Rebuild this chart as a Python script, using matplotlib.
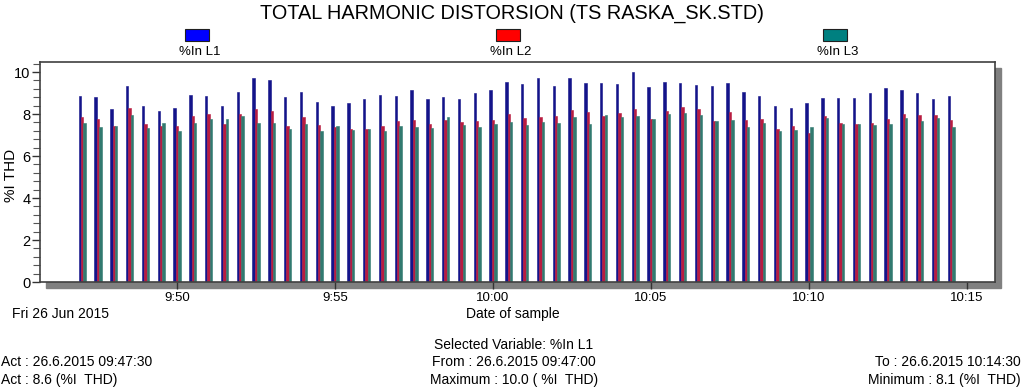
# Total harmonic distortion bar chart

import matplotlib
matplotlib.use('Agg')
import matplotlib.pyplot as plt
import matplotlib.dates as mdates
from matplotlib.patches import Rectangle
from matplotlib.ticker import MultipleLocator, FuncFormatter
import pandas as pd

plt.rcParams['font.family'] = ['Liberation Sans', 'DejaVu Sans']

# samples every 30 s
times = pd.date_range("2015-06-26 09:47:00", "2015-06-26 10:14:30", freq="30s")

thd_l1 = [8.87, 8.80, 8.26, 9.36, 8.40, 8.15, 8.31, 8.91, 8.85, 8.40,
          9.07, 9.70, 9.60, 8.82, 9.07, 8.59, 8.37, 8.51, 8.74, 8.91,
          8.85, 9.14, 8.72, 8.83, 8.72, 8.98, 9.14, 9.54, 9.42, 9.71,
          9.36, 9.70, 9.50, 9.50, 9.42, 9.98, 9.31, 9.54, 9.50, 9.39,
          9.36, 9.50, 9.06, 8.87, 8.40, 8.29, 8.51, 8.77, 8.77, 8.77,
          8.98, 9.25, 9.14, 8.98, 8.71, 8.85]
thd_l2 = [7.88, 7.76, 7.41, 8.31, 7.54, 7.43, 7.44, 7.89, 8.00, 7.51,
          8.00, 8.23, 8.15, 7.44, 7.86, 7.48, 7.40, 7.27, 7.30, 7.41,
          7.68, 7.70, 7.51, 7.72, 7.62, 7.65, 7.73, 7.99, 7.81, 7.84,
          7.91, 8.21, 8.10, 7.91, 8.07, 8.24, 7.76, 8.13, 8.35, 8.23,
          7.67, 8.10, 7.70, 7.75, 7.30, 7.41, 7.12, 7.89, 7.59, 7.54,
          7.59, 7.75, 7.99, 7.96, 7.96, 7.70]
thd_l3 = [7.56, 7.38, 7.41, 7.96, 7.35, 7.56, 7.19, 7.59, 7.75, 7.75,
          7.92, 7.56, 7.56, 7.27, 7.51, 7.17, 7.44, 7.24, 7.28, 7.20,
          7.43, 7.38, 7.33, 7.84, 7.46, 7.40, 7.54, 7.60, 7.48, 7.60,
          7.56, 7.88, 7.54, 7.94, 7.86, 7.91, 7.76, 7.99, 8.07, 7.96,
          7.67, 7.70, 7.36, 7.59, 7.17, 7.25, 7.36, 7.81, 7.52, 7.51,
          7.48, 7.54, 7.83, 7.67, 7.81, 7.40]

labels = ['%In L1', '%In L2', '%In L3']
bar_colors = ['#14148a', '#b81c40', '#317a70']
legend_colors = ['#0000ff', '#ff0000', '#008080']

fig = plt.figure(figsize=(10.23, 3.87), dpi=100)

# shadow behind plot frame
fig.patches.append(Rectangle((0.0391 + 0.006, 0.2713 - 0.016), 0.9335, 0.5685,
                             transform=fig.transFigure, color='#808080', zorder=-5))

ax = fig.add_axes([0.0391, 0.2713, 0.9335, 0.5685])
ax.set_zorder(1)
ax.set_facecolor('white')

x = mdates.date2num(times)
w = 4.6 / 86400.0
ax.bar(x - w, thd_l1, width=w, color=bar_colors[0], edgecolor=bar_colors[0], linewidth=0.4, zorder=2)
ax.bar(x, thd_l2, width=w, color=bar_colors[1], edgecolor=bar_colors[1], linewidth=0.4, zorder=2)
ax.bar(x + w, thd_l3, width=w, color=bar_colors[2], edgecolor=bar_colors[2], linewidth=0.4, zorder=2)

t0 = mdates.date2num(pd.Timestamp("2015-06-26 09:45:40"))
t1 = mdates.date2num(pd.Timestamp("2015-06-26 10:15:53"))
ax.set_xlim(t0, t1)
ax.set_ylim(0, 10.48)

ax.yaxis.set_major_locator(MultipleLocator(2))
ax.yaxis.set_minor_locator(MultipleLocator(0.4))
ax.xaxis.set_major_locator(mdates.MinuteLocator(byminute=range(0, 60, 5)))
ax.xaxis.set_major_formatter(FuncFormatter(
    lambda v, pos: "%d:%02d" % (mdates.num2date(v).hour, mdates.num2date(v).minute)))

ax.tick_params(axis='y', which='major', length=6, width=1, labelsize=10.5, pad=1, color='#333333')
ax.tick_params(axis='y', which='minor', length=5, width=0.8, color='#555555')
ax.tick_params(axis='x', which='major', length=5, width=1, labelsize=9.5, pad=2, color='#333333')
for s in ax.spines.values():
    s.set_color('#404040')
    s.set_linewidth(1.2)

fig.text(11 / 1023, 1 - 175 / 387, '%I THD', rotation=90, ha='center', va='center', fontsize=11)

fig.text(0.5, 0.965, 'TOTAL HARMONIC DISTORSION (TS RASKA_SK.STD)',
         ha='center', va='center', fontsize=14.3)

# legend along the top
leg_x = [197, 508, 835]
for lx, lab, col in zip(leg_x, labels, legend_colors):
    fig.patches.append(Rectangle(((lx - 12) / 1023, 1 - 41 / 387), 24 / 1023, 12 / 387,
                                 transform=fig.transFigure, facecolor=col,
                                 edgecolor='#202020', linewidth=0.8))
    fig.text((lx + 3) / 1023, 1 - 52 / 387, lab, ha='center', va='center', fontsize=9.5)

fig.text(12 / 1023, 1 - 314 / 387, 'Fri 26 Jun 2015', ha='left', va='center', fontsize=10)
fig.text(513 / 1023, 1 - 314 / 387, 'Date of sample', ha='center', va='center', fontsize=10)

fig.text(514 / 1023, 1 - 345 / 387, 'Selected Variable: %In L1', ha='center', va='center', fontsize=10)
fig.text(514 / 1023, 1 - 362 / 387, 'From : 26.6.2015 09:47:00', ha='center', va='center', fontsize=10)
fig.text(514 / 1023, 1 - 380 / 387, 'Maximum : 10.0 ( %I  THD)', ha='center', va='center', fontsize=10)

fig.text(1 / 1023, 1 - 362 / 387, 'Act : 26.6.2015 09:47:30', ha='left', va='center', fontsize=10)
fig.text(1 / 1023, 1 - 380 / 387, 'Act : 8.6 (%I  THD)', ha='left', va='center', fontsize=10)

fig.text(1021 / 1023, 1 - 362 / 387, 'To : 26.6.2015 10:14:30', ha='right', va='center', fontsize=10)
fig.text(1021 / 1023, 1 - 380 / 387, 'Minimum : 8.1 (%I  THD)', ha='right', va='center', fontsize=10)

fig.savefig('out.png', dpi=100)
